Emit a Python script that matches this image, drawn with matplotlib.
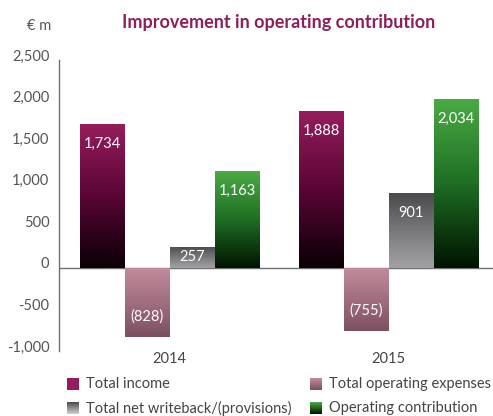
import matplotlib.pyplot as plt
import matplotlib.transforms as mtransforms
import numpy as np
from matplotlib.colors import LinearSegmentedColormap

plt.rcParams['font.family'] = ['Lato', 'DejaVu Sans']

years = ["2014", "2015"]
series = ["Total income", "Total operating expenses",
          "Total net writeback/(provisions)", "Operating contribution"]
total_income = [1734, 1888]
operating_expenses = [-828, -755]
net_writeback = [257, 901]
operating_contribution = [1163, 2034]
values = [total_income, operating_expenses, net_writeback, operating_contribution]

# gradient colours, listed from the zero line outwards to the bar end
grads = [
    ["#0a0005", "#5a0535", "#961d5c"],
    ["#c28a9a", "#a06e80", "#7b5062"],
    ["#a2a2a6", "#78787b", "#4b4b4d"],
    ["#001400", "#1f6e24", "#4aaa44"],
]
legend_grads = [
    ["#961d5c", "#961d5c"],
    ["#c28a9a", "#7b5062"],
    ["#4b4b4d", "#d0d0d2"],
    ["#4aaa44", "#001400"],
]

fig = plt.figure(figsize=(4.93, 4.16), dpi=100)
ax = fig.add_axes([0.1197, 0.156, 0.8803, 0.7])

x = np.arange(len(years))
width = 0.2055

for i, (vals, g) in enumerate(zip(values, grads)):
    cmap = LinearSegmentedColormap.from_list(f"g{i}", g)
    for j, v in enumerate(vals):
        x0 = x[j] - 2 * width + i * width
        bar = ax.bar(x0, v, width, align='edge', color='none', linewidth=0)[0]
        grad = np.linspace(1, 0, 100).reshape(-1, 1)
        if v < 0:
            grad = grad[::-1]
        top, bottom = max(v, 0), min(v, 0)
        img = ax.imshow(grad, extent=[x0, x0 + width, bottom, top],
                        aspect='auto', cmap=cmap, vmin=0, vmax=1,
                        origin='upper', zorder=2)
        img.set_clip_path(bar)
        txt = f"{v:,}" if v >= 0 else f"({-v:,})"
        if abs(v) < 400:
            ax.text(x0 + width / 2, v / 2, txt, ha='center', va='center',
                    color='white', fontsize=10.5, zorder=3)
        else:
            ax.annotate(txt, (x0 + width / 2, v), xytext=(0, -20 if v > 0 else 20),
                        textcoords='offset pixels', ha='center', va='center',
                        color='white', fontsize=10.5, zorder=3)

ax.set_xlim(-0.505, 1.477)
ax.set_ylim(-1000, 2500)
ax.axhline(0, color='#707070', lw=1, zorder=1)

for s in ['top', 'right', 'bottom']:
    ax.spines[s].set_visible(False)
ax.spines['left'].set_color('#707070')
ax.spines['left'].set_linewidth(1)

ax.set_yticks(np.arange(-1000, 2501, 500))
ax.set_yticklabels([f"{t:,}" for t in range(-1000, 2501, 500)])
ax.tick_params(axis='y', length=0, pad=7, labelsize=10.5, labelcolor='#555555')
shift = mtransforms.ScaledTranslation(0, 5 / 100, fig.dpi_scale_trans)
for lbl in ax.get_yticklabels():
    lbl.set_transform(lbl.get_transform() + shift)
ax.set_xticks(x, years)
ax.tick_params(axis='x', length=0, pad=1, labelsize=10.5, labelcolor='#444444')

fig.text(0.565, 0.945, "Improvement in operating contribution", ha='center',
         va='center', fontsize=13, fontweight='bold', color='#8e1f5a')
fig.text(0.08, 0.937, "€ m", ha='center', va='center', fontsize=10.5, color='#555555')

# legend: gradient squares plus labels, two columns
leg_pos = [(67, 384), (310, 384), (67, 408), (310, 408)]
for (px, py), name, g in zip(leg_pos, series, legend_grads):
    lax = fig.add_axes([px / 493, 1 - (py + 6) / 416, 12 / 493, 12 / 416])
    cmap = LinearSegmentedColormap.from_list(name, g)
    lax.imshow(np.linspace(0, 1, 50).reshape(-1, 1), aspect='auto', cmap=cmap)
    lax.axis('off')
    fig.text((px + 19) / 493, 1 - py / 416, name, ha='left', va='center',
             fontsize=10.5, color='#444444')

fig.savefig("out.png", dpi=100)
